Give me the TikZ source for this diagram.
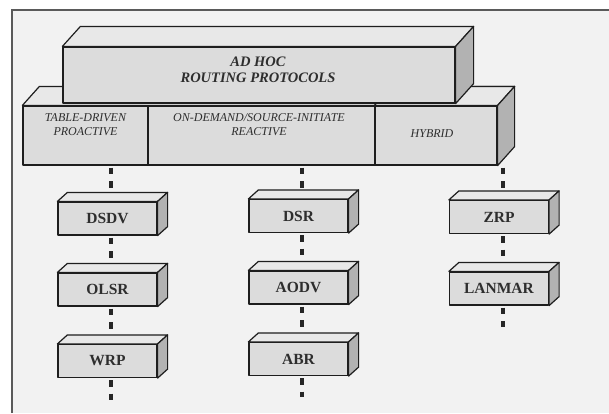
\documentclass[tikz,border=0pt]{standalone}
\usepackage{fontspec}
\setmainfont{Liberation Serif}
\usetikzlibrary{calc}
\definecolor{pagebg}{HTML}{F2F2F2}
\definecolor{facefront}{HTML}{DCDCDC}
\definecolor{facetop}{HTML}{E8E8E8}
\definecolor{faceside}{HTML}{B2B2B2}
\definecolor{framegray}{HTML}{5A5A5A}
\definecolor{ink}{HTML}{1E1E1E}
\definecolor{label}{HTML}{2E2E2E}

% top and right faces of a box whose front face is node #1, depth (#2,#3)
\newcommand\prismfaces[3]{%
  \filldraw[face,fill=facetop] (#1.north west) -- ++(#2,#3)
    -- ($(#1.north east)+(#2,#3)$) -- (#1.north east) -- cycle;
  \filldraw[face,fill=faceside] (#1.north east) -- ++(#2,#3)
    -- ($(#1.south east)+(#2,#3)$) -- (#1.south east) -- cycle;
}

\begin{document}
\begin{tikzpicture}[x=1pt,y=-1pt,
  face/.style={draw=ink,line width=1.2pt,line join=round},
  front/.style={face,fill=facefront,rectangle,inner sep=0pt},
  leaf/.style={front,minimum width=99pt,minimum height=33pt,
    text=label,font=\bfseries\fontsize{15.5}{17}\selectfont},
  headtext/.style={align=center,text=label,
    font=\bfseries\itshape\fontsize{14.5}{16}\selectfont},
  subtext/.style={align=center,text=label,
    font=\itshape\fontsize{12}{14}\selectfont},
  link/.style={draw=black!85,line width=4pt,dash pattern=on 6.5pt off 7pt},
]
\useasboundingbox (0,0) rectangle (609,413);
\fill[white] (0,0) rectangle (609,413);
\fill[pagebg] (12,9.5) rectangle (609,413);
\draw[framegray,line width=2pt] (12,413) -- (12,9.5) -- (609,9.5);

% second tier: three categories sharing one slab
\node[front,minimum width=125pt,minimum height=59pt] (tdp) at (85.5,135.5) {};
\node[front,minimum width=227pt,minimum height=59pt] (odr) at (261.5,135.5) {};
\node[front,minimum width=122pt,minimum height=59pt] (hyb) at (436,135.5) {};
\filldraw[face,fill=facetop] (tdp.north west) -- ++(17,-19)
  -- ($(hyb.north east)+(17,-19)$) -- (hyb.north east) -- cycle;
\prismfaces{hyb}{17}{-19}
\node[subtext] (tdptext) at (85.5,125) {TABLE-DRIVEN\\PROACTIVE};
\node[subtext] (odrtext) at (259,125) {ON-DEMAND/SOURCE-INITIATE\\REACTIVE};
\node[subtext] (hybtext) at (432,134) {HYBRID};

% top tier
\node[front,minimum width=392pt,minimum height=56pt] (adhoc) at (259,75) {};
\prismfaces{adhoc}{18}{-20}
\node[headtext] (adhoctext) at (258,70) {AD HOC\\ROUTING PROTOCOLS};

% protocol columns
\coordinate (k1) at (111,0);
\coordinate (k2) at (302,0);
\coordinate (k3) at (503,0);
\coordinate (e1) at (111,400);
\coordinate (e2) at (302,397);
\coordinate (e3) at (503,327);

\node[leaf] (dsdv)   at (107.5,218.5) {DSDV};
\node[leaf] (olsr)   at (107.5,289.5) {OLSR};
\node[leaf] (wrp)    at (107.5,361)   {WRP};
\node[leaf] (dsr)    at (298.5,216)   {DSR};
\node[leaf] (aodv)   at (298.5,287.5) {AODV};
\node[leaf] (abr)    at (298.5,359)   {ABR};
\node[leaf] (zrp)    at (499,217)     {ZRP};
\node[leaf] (lanmar) at (499,288.5)   {LANMAR};

% dotted links; the box faces drawn afterwards hide their ends
\draw[link] ([yshift=-2pt]k1 |- tdp.south) -- (k1 |- dsdv.north);
\draw[link] ([yshift=-2pt]k1 |- dsdv.south) -- (k1 |- olsr.north);
\draw[link] ([yshift=-2pt]k1 |- olsr.south) -- (k1 |- wrp.north);
\draw[link] ([yshift=-2pt]k1 |- wrp.south) -- (e1);
\draw[link] ([yshift=-2pt]k2 |- odr.south) -- (k2 |- dsr.north);
\draw[link] ([yshift=-2pt]k2 |- dsr.south) -- (k2 |- aodv.north);
\draw[link] ([yshift=-2pt]k2 |- aodv.south) -- (k2 |- abr.north);
\draw[link] ([yshift=-2pt]k2 |- abr.south) -- (e2);
\draw[link] ([yshift=-2pt]k3 |- hyb.south) -- (k3 |- zrp.north);
\draw[link] ([yshift=-2pt]k3 |- zrp.south) -- (k3 |- lanmar.north);
\draw[link] ([yshift=-2pt]k3 |- lanmar.south) -- (e3);

\foreach \b in {dsdv,olsr,wrp,dsr,aodv,abr,zrp,lanmar}{\prismfaces{\b}{10}{-9}}
\end{tikzpicture}
\end{document}
